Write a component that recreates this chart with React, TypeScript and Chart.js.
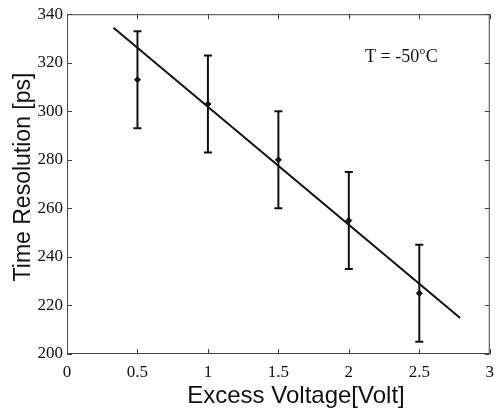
import React, { useEffect, useRef } from "react";
import { Chart, registerables } from "chart.js";

Chart.register(...registerables);

const voltages = [0.5, 1, 1.5, 2, 2.5];
const resolutions = [313, 303, 280, 255, 225];
const errors = [20, 20, 20, 20, 20];
const fitX = [0.33, 2.79];
const fitY = [334.4, 214.8];
const xTicks = [0, 0.5, 1, 1.5, 2, 2.5, 3];
const yTicks = [200, 220, 240, 260, 280, 300, 320, 340];
const xTitle = "Excess Voltage[Volt]";
const yTitle = "Time Resolution [ps]";
const annotation = "T = -50";

const serif = "'Liberation Serif', 'DejaVu Serif', serif";
const sans = "'Liberation Sans', Arial, sans-serif";

const framePlugin = {
  id: "framePlugin",
  afterDatasetsDraw(chart: any) {
    const { ctx, chartArea, scales } = chart;
    const xs = scales.x;
    const ys = scales.y;
    ctx.save();
    // error bars
    ctx.strokeStyle = "#111";
    ctx.lineWidth = 2;
    voltages.forEach((v, i) => {
      const px = xs.getPixelForValue(v);
      const top = ys.getPixelForValue(resolutions[i] + errors[i]);
      const bot = ys.getPixelForValue(resolutions[i] - errors[i]);
      ctx.beginPath();
      ctx.moveTo(px, top);
      ctx.lineTo(px, bot);
      ctx.moveTo(px - 4, top);
      ctx.lineTo(px + 4, top);
      ctx.moveTo(px - 4, bot);
      ctx.lineTo(px + 4, bot);
      ctx.stroke();
    });
    // frame
    ctx.strokeStyle = "#444";
    ctx.lineWidth = 1;
    const { left, right, top, bottom } = chartArea;
    ctx.strokeRect(left + 0.5, top + 0.5, right - left - 1, bottom - top - 1);
    const tl = 5;
    ctx.beginPath();
    xTicks.forEach((t) => {
      const px = Math.round(xs.getPixelForValue(t)) + 0.5;
      ctx.moveTo(px, bottom);
      ctx.lineTo(px, bottom - tl);
      ctx.moveTo(px, top);
      ctx.lineTo(px, top + tl);
    });
    yTicks.forEach((t) => {
      const py = Math.round(ys.getPixelForValue(t)) + 0.5;
      ctx.moveTo(left, py);
      ctx.lineTo(left + tl, py);
      ctx.moveTo(right, py);
      ctx.lineTo(right - tl, py);
    });
    ctx.stroke();
    // titles
    ctx.fillStyle = "#111";
    ctx.font = `24px ${sans}`;
    ctx.textAlign = "center";
    ctx.textBaseline = "alphabetic";
    ctx.fillText(xTitle, 296, 403);
    ctx.save();
    ctx.font = `23px ${sans}`;
    ctx.translate(30, 177);
    ctx.rotate(-Math.PI / 2);
    ctx.fillText(yTitle, 0, 0);
    ctx.restore();
    // annotation
    ctx.font = `18px ${serif}`;
    ctx.textAlign = "left";
    ctx.textBaseline = "alphabetic";
    const ax = 365;
    const ay = 62;
    ctx.fillText(annotation, ax, ay);
    const w = ctx.measureText(annotation).width;
    ctx.font = `11px ${serif}`;
    ctx.fillText("o", ax + w + 0.5, ay - 8);
    const w2 = ctx.measureText("o").width;
    ctx.font = `18px ${serif}`;
    ctx.fillText("C", ax + w + w2 + 1, ay);
    ctx.restore();
  },
};

export default function App() {
  const ref = useRef<HTMLCanvasElement>(null);
  useEffect(() => {
    if (!ref.current) return;
    const chart = new Chart(ref.current, {
      type: "scatter",
      data: {
        datasets: [
          {
            label: "fit",
            data: fitX.map((x, i) => ({ x, y: fitY[i] })),
            showLine: true,
            borderColor: "#111",
            borderWidth: 2,
            pointRadius: 0,
          },
          {
            label: "data",
            data: voltages.map((x, i) => ({ x, y: resolutions[i] })),
            pointStyle: "rectRot",
            pointRadius: 3,
            backgroundColor: "#111",
            borderColor: "#111",
            borderWidth: 1,
          },
        ],
      },
      options: {
        animation: false,
        responsive: false,
        events: [],
        layout: { padding: { top: 14, right: 3, left: 0, bottom: 0 } },
        plugins: { legend: { display: false }, tooltip: { enabled: false } },
        scales: {
          x: {
            type: "linear",
            min: 0,
            max: 3,
            afterFit: (s: any) => {
              s.height = 54;
            },
            afterBuildTicks: (s: any) => {
              s.ticks = xTicks.map((v) => ({ value: v }));
            },
            grid: { display: false, drawTicks: false },
            border: { display: false },
            ticks: {
              padding: 8,
              color: "#111",
              font: { family: serif, size: 17 },
              callback: (v: any) => String(v),
            },
          },
          y: {
            type: "linear",
            min: 200,
            max: 340,
            afterFit: (s: any) => {
              s.width = 67;
            },
            afterBuildTicks: (s: any) => {
              s.ticks = yTicks.map((v) => ({ value: v }));
            },
            grid: { display: false, drawTicks: false },
            border: { display: false },
            ticks: {
              padding: 4,
              color: "#111",
              font: { family: serif, size: 17 },
              callback: (v: any) => String(v),
            },
          },
        },
      },
      plugins: [framePlugin],
    });
    return () => chart.destroy();
  }, []);
  return (
    <div style={{ position: "fixed", left: 0, top: 0, width: 502, height: 408, background: "#fff" }}>
      <canvas ref={ref} width={502} height={408} />
    </div>
  );
}
